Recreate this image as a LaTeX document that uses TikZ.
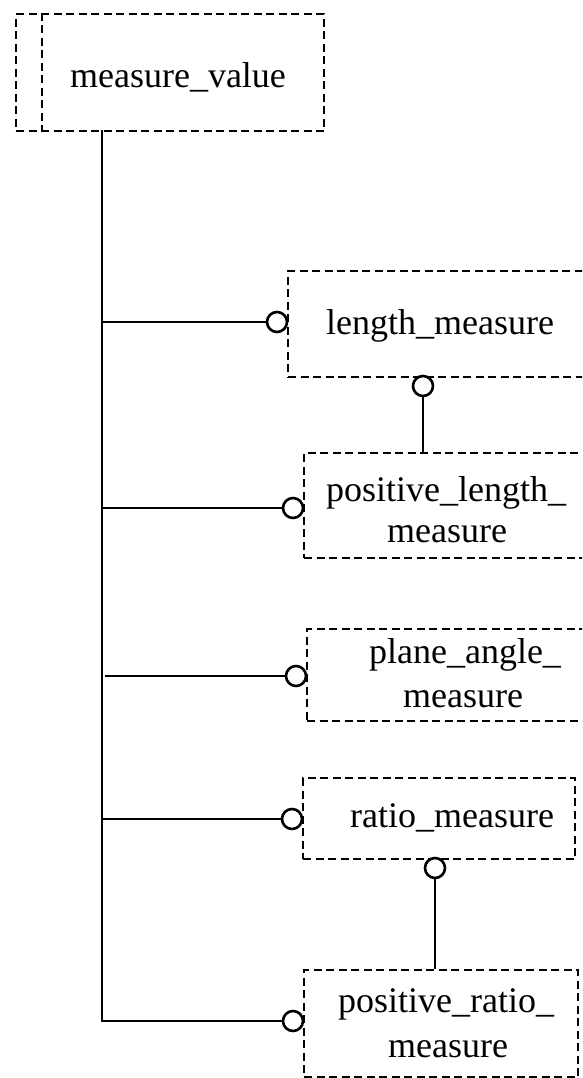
\documentclass[tikz,border=0pt]{standalone}
\usepackage{fontspec}
\setmainfont{Liberation Serif}
\begin{document}
\begin{tikzpicture}[x=1pt,y=-1pt,
  dsh/.style={line width=2.4pt,dash pattern=on 8pt off 4.5pt},
  box/.style={draw,dsh,rectangle,inner sep=0pt,anchor=north west},
  lbl/.style={font=\fontsize{36}{41}\selectfont,inner sep=0pt,anchor=base},
  ring/.style={draw,circle,line width=2.6pt,fill=white,minimum size=20pt,inner sep=0pt},
  wire/.style={line width=2.6pt}]
\useasboundingbox (0,0) rectangle (582,1078);
\clip (0,0) rectangle (582,1078);
% boxes
\node[box,minimum width=308pt,minimum height=117pt] (mv) at (15,13) {};
\draw[dsh] (42,13) -- (42,130);
\node[box,minimum width=313pt,minimum height=106pt] (lm) at (287,270) {};
\node[box,minimum width=297pt,minimum height=105pt] (plm) at (303,452) {};
\node[box,minimum width=294pt,minimum height=92pt] (pam) at (306,628) {};
\node[box,minimum width=272pt,minimum height=81pt] (rm) at (302,777) {};
\node[box,minimum width=274pt,minimum height=107pt] (prm) at (303,969) {};
% labels
\node[lbl] (tmv) at (178,88) {measure\_value};
\node[lbl] (tlm) at (440,334) {length\_measure};
\node[lbl] (tplm1) at (446,501) {positive\_length\_};
\node[lbl] (tplm2) at (447,542) {measure};
\node[lbl] (tpam1) at (465,663) {plane\_angle\_};
\node[lbl] (tpam2) at (463,707) {measure};
\node[lbl] (trm) at (452,827) {ratio\_measure};
\node[lbl] (tprm1) at (446,1012) {positive\_ratio\_};
\node[lbl] (tprm2) at (448,1057) {measure};
% rings
\node[ring] (c1) at (277,322) {};
\node[ring] (c2) at (423,386) {};
\node[ring] (c3) at (293,508) {};
\node[ring] (c4) at (296,676) {};
\node[ring] (c5) at (292,819) {};
\node[ring] (c6) at (435,868) {};
\node[ring] (c7) at (293,1021) {};
% trunk
\coordinate (top) at (102,130);
\coordinate (b1) at (102,322);
\coordinate (b3) at (102,508);
\coordinate (b4) at (105,676);
\coordinate (b5) at (102,819);
\coordinate (b7) at (102,1021);
\draw[wire] (top) -- (b7) -- (c7.west);
\draw[wire] (b1) -- (c1.west);
\draw[wire] (b3) -- (c3.west);
\draw[wire] (b4) -- (c4.west);
\draw[wire] (b5) -- (c5.west);
\draw[wire] (c2.south) -- (c2.south |- plm.north);
\draw[wire] (c6.south) -- (c6.south |- prm.north);
\end{tikzpicture}
\end{document}
